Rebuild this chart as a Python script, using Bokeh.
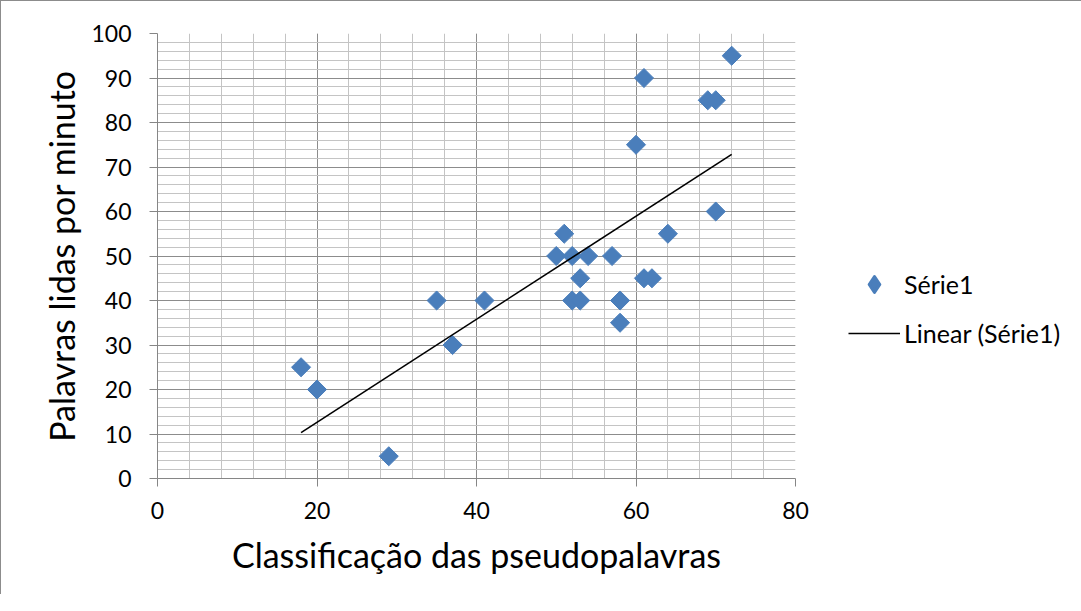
import numpy as np
from bokeh.plotting import figure
from bokeh.models import Range1d, Legend, LegendItem, SingleIntervalTicker
from bokeh.embed import file_html
from bokeh.resources import INLINE

# Data
classificacao = [18, 20, 29, 35, 37, 41, 50, 51, 52, 52, 53, 53, 54, 57, 58, 58, 60, 61, 61, 62, 64, 69, 70, 70, 72]
palavras_min = [25, 20, 5, 40, 30, 40, 50, 55, 50, 40, 45, 40, 50, 50, 40, 35, 75, 90, 45, 45, 55, 85, 85, 60, 95]
series_name = "Série1"
trend_name = "Linear (Série1)"
x_title = "Classificação das pseudopalavras"
y_title = "Palavras lidas por minuto"

FONT = "Lato"
BLUE = "#4A7EBB"

# Linear trend (least squares) over the data span
slope, intercept = np.polyfit(classificacao, palavras_min, 1)
tx = [min(classificacao), max(classificacao)]
ty = [slope * v + intercept for v in tx]

p = figure(frame_width=638, frame_height=445, output_backend="svg", toolbar_location=None,
           x_range=Range1d(0, 80), y_range=Range1d(0, 100),
           min_border_left=156, min_border_right=269, min_border_top=32, min_border_bottom=116)
p.styles = {"border-left": "1px solid #8c8c8c", "border-top": "1px solid #8c8c8c"}
p.outline_line_color = None
p.background_fill_color = "white"
p.border_fill_color = "white"
# an off-screen range, used only so the legend key can be drawn as a diamond
p.extra_x_ranges = {"legend_key": Range1d(1000, 1001)}

p.xaxis.ticker = SingleIntervalTicker(interval=20, num_minor_ticks=5)
p.yaxis.ticker = SingleIntervalTicker(interval=10, num_minor_ticks=5)

for ax in (p.xaxis[0], p.yaxis[0]):
    ax.axis_line_color = "#868686"
    ax.axis_line_width = 1
    ax.major_tick_line_color = "#868686"
    ax.major_tick_in = 0
    ax.major_tick_out = 8
    ax.minor_tick_line_color = None
    ax.major_label_text_font = FONT
    ax.major_label_text_font_size = "23px"
    ax.major_label_text_color = "#000000"
    ax.axis_label_text_font = FONT
    ax.axis_label_text_font_style = "normal"
    ax.axis_label_text_color = "#000000"
    ax.axis_label_text_font_size = "34px"

p.xaxis.axis_label = x_title
p.yaxis.axis_label = y_title
p.xaxis.major_label_standoff = 15
p.yaxis.major_label_standoff = 18
p.xaxis.axis_label_standoff = 12
p.yaxis.axis_label_standoff = 6

for g in (p.xgrid[0], p.ygrid[0]):
    g.grid_line_color = "#8c8c8c"
    g.grid_line_width = 1
    g.minor_grid_line_color = "#c4c4c4"
    g.minor_grid_line_width = 1

r_pts = p.scatter(classificacao, palavras_min, marker="square", size=13.5, angle=np.pi / 4,
                  fill_color=BLUE, line_color=BLUE)
r_line = p.line(tx, ty, line_color="black", line_width=1.6)
# legend key stand-in (legend keys are drawn unrotated, so use a diamond marker)
r_key = p.scatter(classificacao, palavras_min, marker="diamond", x_range_name="legend_key",
                  fill_color=BLUE, line_color=BLUE, line_width=3, line_join="round")

legend = Legend(items=[LegendItem(label=series_name, renderers=[r_key]),
                       LegendItem(label=trend_name, renderers=[r_line])],
                location=(53, 125), orientation="vertical",
                glyph_width=52, glyph_height=40, label_height=20, spacing=9,
                label_standoff=4, padding=0, margin=0,
                border_line_color=None, background_fill_alpha=0,
                label_text_font=FONT, label_text_font_size="25px", label_text_color="#000000")
p.add_layout(legend, "right")

open("out.html", "w").write(file_html(p, INLINE))
